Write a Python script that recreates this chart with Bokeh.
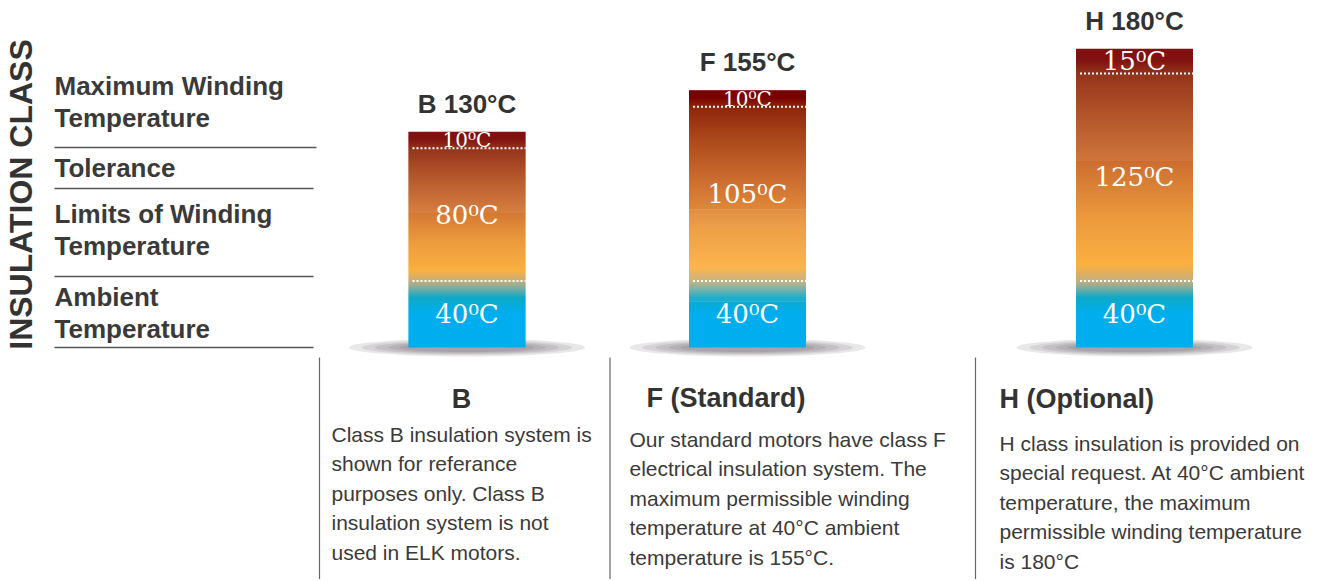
import numpy as np
from bokeh.plotting import figure
from bokeh.models import Range1d, ColumnDataSource
from bokeh.core.properties import value
from bokeh.embed import file_html
from bokeh.resources import INLINE

# ---------------- data ----------------
classes = ["B", "F", "H"]
max_temps = [130, 155, 180]
ambient = [40, 40, 40]
limits = [80, 105, 125]
tolerance = [10, 10, 15]
bar_titles = ["B 130°C", "F 155°C", "H 180°C"]

side_title = "INSULATION CLASS"
row_lines = ["Maximum Winding", "Temperature", "Tolerance",
             "Limits of Winding", "Temperature", "Ambient", "Temperature"]

headings = ["B", "F (Standard)", "H (Optional)"]
desc_B = ["Class B insulation system is", "shown for referance",
          "purposes only. Class B", "insulation system is not",
          "used in ELK motors."]
desc_F = ["Our standard motors have class F", "electrical insulation system. The",
          "maximum permissible winding", "temperature at 40°C ambient",
          "temperature is 155°C."]
desc_H = ["H class insulation is provided on", "special request. At 40°C ambient",
          "temperature, the maximum", "permissible winding temperature",
          "is 180°C"]

# ---------------- layout / style ----------------
W, H = 1330, 579
BAR_X = [466.5, 747.0, 1134.0]
BAR_W = 117
BASE_Y = 347          # page y of the 0 °C baseline
PX_PER_DEG = 1.66
SANS = "Liberation Sans"
SERIF = "DejaVu Serif"
DARK = "#333333"

p = figure(width=W, height=H, output_backend="svg", toolbar_location=None,
           x_range=Range1d(0, W), y_range=Range1d(H, 0),
           x_axis_location=None, y_axis_location=None,
           min_border=0, min_border_left=0, min_border_right=0,
           min_border_top=0, min_border_bottom=0)
p.grid.visible = False
p.outline_line_color = None
p.background_fill_color = "white"
p.border_fill_color = "white"
p.extra_y_ranges = {"temp": Range1d(-(H - BASE_Y) / PX_PER_DEG,
                                    BASE_Y / PX_PER_DEG)}


def hex2rgb(h):
    h = h.lstrip("#")
    return np.array([int(h[i:i + 2], 16) for i in (0, 2, 4)], dtype=float)


def grad_stops(a, l, t):
    return [(0.0, "#00aeef"), (0.5 * a, "#00aeef"), (0.75 * a, "#0da9c8"),
            (0.9 * a, "#7fae9e"), (a, "#c4ad7c"), (a + 0.08 * l, "#fbb040"),
            (a + 0.3 * l, "#ec9a3d"), (a + 0.55 * l, "#d07232"),
            (a + 0.8 * l, "#ae4a1c"), (a + l, "#8e260c"),
            (a + l + 0.55 * t, "#790300"), (a + l + t, "#780000")]


def color_at(v, stops):
    pos = np.array([s[0] for s in stops])
    cols = np.array([hex2rgb(s[1]) for s in stops])
    rgb = [np.interp(v, pos, cols[:, k]) for k in range(3)]
    return "#%02x%02x%02x" % tuple(int(round(c)) for c in rgb)


# ---------------- shadows ----------------
for cx in BAR_X:
    for sw, sh in [(236, 18), (210, 15), (184, 13), (158, 11), (134, 9)]:
        p.ellipse(x=[cx], y=[0], width=sw, height=sh, width_units="screen",
                  height_units="screen", y_range_name="temp",
                  fill_color="#4d4447", fill_alpha=0.12, line_color=None)

# ---------------- gradient bars ----------------
for cx, total, a, l, t in zip(BAR_X, max_temps, ambient, limits, tolerance):
    stops = grad_stops(a, l, t)
    n = int(total * PX_PER_DEG) + 1
    edges = np.linspace(0, total, n + 1)
    step = edges[1] - edges[0]
    bottoms = edges[:-1]
    tops = np.minimum(edges[1:] + 0.5 * step, total)
    mids = (edges[:-1] + edges[1:]) / 2
    cols = [color_at(m, stops) for m in mids]
    src = ColumnDataSource(dict(bottom=bottoms, top=tops, color=cols,
                                left=[cx - BAR_W / 2] * n, right=[cx + BAR_W / 2] * n))
    p.quad(left="left", right="right", bottom="bottom", top="top", source=src,
           fill_color="color", line_color=None, y_range_name="temp")

    # dotted boundaries
    p.segment(x0=[cx - BAR_W / 2 + 4] * 2, x1=[cx + BAR_W / 2] * 2,
              y0=[a, a + l], y1=[a, a + l], y_range_name="temp",
              line_color="white", line_width=2, line_dash="2 2")

    # segment labels
    seg_vals = [a, l, t]
    seg_mid = [a / 2, a + l / 2, a + l + t / 2]
    sizes = [min(26, int(0.9 * v * PX_PER_DEG / 0.73)) for v in seg_vals]
    p.text(x=[cx] * 3, y=seg_mid, text=[f"{v}\u2070C" for v in seg_vals],
           text_font=value(SERIF), text_font_size=[f"{s}px" for s in sizes],
           text_color="white", text_align="center", text_baseline="middle",
           y_range_name="temp")

# bar titles
p.text(x=BAR_X, y=max_temps, text=bar_titles, y_range_name="temp",
       text_font=value(SANS), text_font_style="bold", text_font_size="26px",
       text_color=DARK, text_align="center", text_baseline="middle", y_offset=-28)

# ---------------- left panel ----------------
p.text(x=[20], y=[194], text=[side_title], angle=np.pi / 2,
       text_font=value(SANS), text_font_style="bold", text_font_size="32px",
       text_color=DARK, text_align="center", text_baseline="middle")

ROW_Y = [85, 117, 167, 213, 245, 296, 328]
p.text(x=[54] * len(row_lines), y=ROW_Y, text=row_lines,
       text_font=value(SANS), text_font_style="bold", text_font_size="26px",
       text_color="#3a3a3a", text_align="left", text_baseline="middle")
p.segment(x0=[54, 54, 54, 54], x1=[316, 313, 313, 313],
          y0=[147, 188, 276, 347], y1=[147, 188, 276, 347],
          line_color="#555555", line_width=1.3)

# ---------------- descriptions ----------------
p.segment(x0=[319, 609.5, 975], x1=[319, 609.5, 975],
          y0=[357] * 3, y1=[H] * 3, line_color="#666666", line_width=1.2)

p.text(x=[461, 646, 999], y=[398, 397.5, 398.5], text=headings,
       text_align=["center", "left", "left"],
       text_font=value(SANS), text_font_style="bold", text_font_size="27px",
       text_color=DARK, text_baseline="middle")

for x0, y0, lines in [(331, 433.5, desc_B), (629, 438.5, desc_F), (999, 442.5, desc_H)]:
    ys = [y0 + 29.6 * i for i in range(len(lines))]
    p.text(x=[x0] * len(lines), y=ys, text=lines,
           text_font=value(SANS), text_font_size="21px", text_color="#3a3a3a",
           text_align="left", text_baseline="middle")

open("out.html", "w").write(file_html(p, INLINE))
